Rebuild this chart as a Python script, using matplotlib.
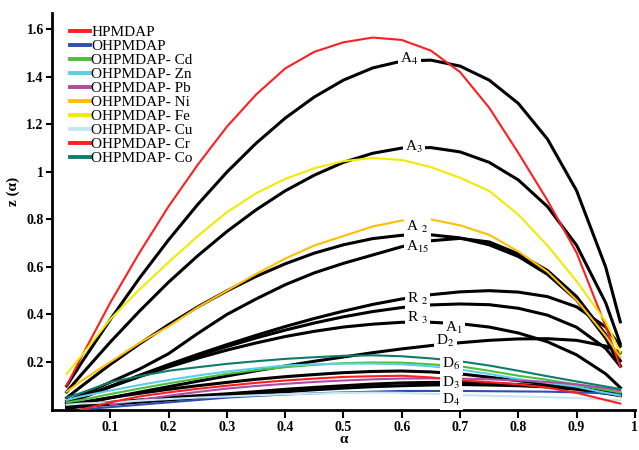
import numpy as np
import matplotlib
matplotlib.use("Agg")
import matplotlib.pyplot as plt
from matplotlib.lines import Line2D

plt.rcParams['font.family'] = ['Liberation Serif', 'DejaVu Serif']
plt.rcParams['mathtext.fontset'] = 'stix'

nan = np.nan

# conversion degree values
alpha = [0.025, 0.05, 0.1, 0.15, 0.2, 0.25, 0.3, 0.35, 0.4, 0.45, 0.5, 0.55, 0.6,
         0.65, 0.7, 0.75, 0.8, 0.85, 0.9, 0.95, 0.975]

# experimental z(alpha) curves
hpmdap = [0.10, 0.22, 0.45, 0.66, 0.855, 1.03, 1.19, 1.325, 1.435, 1.505, 1.545, 1.565, 1.555,
          1.51, 1.42, 1.27, 1.08, 0.88, 0.66, 0.35, 0.18]
ohpmdap = [nan, 0.0, 0.01, 0.02, 0.03, 0.04, 0.05, 0.057, 0.063, 0.068, 0.072, 0.075, 0.078,
           0.078, 0.078, 0.077, 0.076, 0.075, 0.072, 0.068, 0.065]
cd = [0.03, 0.04, 0.065, 0.088, 0.11, 0.13, 0.15, 0.165, 0.178, 0.188, 0.195, 0.198, 0.197,
      0.19, 0.182, 0.163, 0.142, 0.125, 0.105, 0.082, 0.072]
zn = [0.04, 0.055, 0.08, 0.103, 0.124, 0.143, 0.16, 0.173, 0.185, 0.19, 0.193, 0.193, 0.19,
      0.182, 0.168, 0.15, 0.128, 0.112, 0.096, 0.07, 0.058]
pb = [nan, nan, 0.02, 0.04, 0.058, 0.074, 0.088, 0.099, 0.108, 0.116, 0.122, 0.127, 0.13,
      0.131, 0.13, 0.127, 0.122, 0.116, 0.106, 0.09, 0.08]
ni = [0.075, 0.12, 0.20, 0.28, 0.35, 0.43, 0.50, 0.57, 0.635, 0.69, 0.73, 0.77, 0.795,
      0.80, 0.775, 0.735, 0.665, 0.58, 0.46, 0.31, 0.22]
fe = [0.15, 0.225, 0.38, 0.505, 0.62, 0.73, 0.83, 0.91, 0.97, 1.015, 1.045, 1.058, 1.05,
      1.02, 0.975, 0.92, 0.82, 0.69, 0.54, 0.37, 0.24]
cu = [0.02, 0.025, 0.03, 0.037, 0.044, 0.05, 0.055, 0.06, 0.064, 0.067, 0.07, 0.071, 0.07,
      0.066, 0.061, 0.058, 0.055, 0.052, 0.048, 0.042, 0.038]
cr = [nan, 0.0, 0.03, 0.055, 0.072, 0.087, 0.10, 0.112, 0.122, 0.13, 0.137, 0.14, 0.142,
      0.135, 0.123, 0.115, 0.106, 0.092, 0.07, 0.04, 0.025]
co = [0.05, 0.07, 0.115, 0.14, 0.163, 0.178, 0.192, 0.203, 0.213, 0.22, 0.226, 0.228, 0.224,
      0.215, 0.203, 0.185, 0.163, 0.14, 0.118, 0.097, 0.086]

# model master curves (black)
A1 = [0.025, 0.049, 0.095, 0.138, 0.179, 0.216, 0.250, 0.280, 0.307, 0.329, 0.347, 0.359, 0.367,
      0.367, 0.361, 0.347, 0.322, 0.285, 0.230, 0.150, 0.092]
A15 = [0.035, 0.06, 0.115, 0.17, 0.235, 0.32, 0.40, 0.465, 0.525, 0.575, 0.615, 0.65, 0.685,
       0.71, 0.72, 0.705, 0.655, 0.585, 0.475, 0.315, 0.205]
A2 = [0.049, 0.097, 0.190, 0.276, 0.357, 0.432, 0.499, 0.560, 0.613, 0.658, 0.693, 0.719, 0.733,
      0.735, 0.722, 0.693, 0.644, 0.569, 0.461, 0.300, 0.184]
A3 = [0.074, 0.146, 0.284, 0.414, 0.536, 0.647, 0.749, 0.840, 0.920, 0.986, 1.040, 1.078, 1.100,
      1.102, 1.084, 1.040, 0.966, 0.854, 0.691, 0.449, 0.277]
A4 = [0.099, 0.195, 0.379, 0.553, 0.714, 0.863, 0.999, 1.120, 1.226, 1.315, 1.386, 1.437, 1.466,
      1.470, 1.445, 1.386, 1.288, 1.138, 0.921, 0.599, 0.369]
R2 = [0.025, 0.049, 0.097, 0.144, 0.189, 0.232, 0.273, 0.312, 0.349, 0.383, 0.414, 0.442, 0.465,
      0.483, 0.495, 0.500, 0.494, 0.475, 0.432, 0.347, 0.266]
R3 = [0.025, 0.049, 0.097, 0.142, 0.185, 0.226, 0.265, 0.301, 0.334, 0.364, 0.390, 0.412, 0.429,
      0.440, 0.444, 0.441, 0.426, 0.397, 0.346, 0.257, 0.182]
D2 = [0.012, 0.025, 0.049, 0.073, 0.096, 0.119, 0.141, 0.163, 0.183, 0.203, 0.221, 0.239, 0.255,
      0.269, 0.281, 0.291, 0.297, 0.298, 0.291, 0.267, 0.239]
D3 = [0.01, 0.018, 0.03, 0.04, 0.05, 0.058, 0.066, 0.075, 0.085, 0.093, 0.1, 0.107, 0.112,
      0.114, 0.114, 0.11, 0.105, 0.098, 0.09, 0.07, 0.06]
D4 = [0.005, 0.012, 0.022, 0.031, 0.04, 0.049, 0.058, 0.067, 0.075, 0.083, 0.09, 0.096, 0.1,
      0.103, 0.105, 0.103, 0.1, 0.095, 0.085, 0.068, 0.058]
D6 = [0.02, 0.03, 0.05, 0.068, 0.085, 0.1, 0.114, 0.127, 0.138, 0.147, 0.155, 0.16, 0.162,
      0.158, 0.15, 0.136, 0.121, 0.108, 0.093, 0.075, 0.065]

series_names = ['HPMDAP', 'OHPMDAP', 'OHPMDAP- Cd', 'OHPMDAP- Zn', 'OHPMDAP- Pb',
                'OHPMDAP- Ni', 'OHPMDAP- Fe', 'OHPMDAP- Cu', 'OHPMDAP- Cr', 'OHPMDAP- Co']
series_data = [hpmdap, ohpmdap, cd, zn, pb, ni, fe, cu, cr, co]
series_colors = ['#ff1e1e', '#2f4fb0', '#4cbf3a', '#5ccfe6', '#b04aa8',
                 '#ffbf00', '#f2ea00', '#c6e6f2', '#ff1e1e', '#0e7c6c']

model_data = [A4, A3, A2, A15, R2, R3, A1, D2, D6, D3, D4]
model_labels = [r'A$_4$', r'A$_3$', r'A $_2$', r'A$_{15}$', r'R $_2$', r'R $_3$',
                r'A$_1$', r'D$_2$', r'D$_6$', r'D$_3$', r'D$_4$']
label_x = [0.613, 0.621, 0.627, 0.627, 0.627, 0.627, 0.69, 0.675, 0.685, 0.685, 0.685]
label_y = [1.475, 1.105, 0.77, 0.685, 0.465, 0.385, 0.343, 0.287, 0.19, 0.112, 0.04]

fig = plt.figure(figsize=(6.39, 4.5), dpi=100)
ax = fig.add_axes([0.0815, 0.09, 0.912, 0.882])

for y in model_data:
    ax.plot(alpha, y, color='black', lw=2.2, zorder=2)

for y, c in zip(series_data, series_colors):
    ax.plot(alpha, y, color=c, lw=1.5, zorder=3)

# curve labels sit on a white patch so the lines look broken there
for t, x, y in zip(model_labels, label_x, label_y):
    ax.text(x, y, t, fontsize=11, ha='center', va='center', zorder=5,
            bbox=dict(facecolor='white', edgecolor='none', pad=1.5))

ax.set_xlim(0, 1.0)
ax.set_ylim(0, 1.67)
ax.set_xticks([0.1, 0.2, 0.3, 0.4, 0.5, 0.6, 0.7, 0.8, 0.9, 1.0])
ax.set_xticklabels(['0.1', '0.2', '0.3', '0.4', '0.5', '0.6', '0.7', '0.8', '0.9', '1'])
ax.set_yticks([0.2, 0.4, 0.6, 0.8, 1.0, 1.2, 1.4, 1.6])
ax.set_yticklabels(['0.2', '0.4', '0.6', '0.8', '1', '1.2', '1.4', '1.6'])
ax.tick_params(axis='x', direction='out', length=6, width=1.5, labelsize=10, pad=2)
ax.tick_params(axis='y', direction='out', length=4, width=1.5, labelsize=10, pad=2)
for lab in ax.get_xticklabels() + ax.get_yticklabels():
    lab.set_fontweight('bold')

ax.spines['top'].set_visible(False)
ax.spines['right'].set_visible(False)
ax.spines['left'].set_linewidth(2)
ax.spines['bottom'].set_linewidth(2)

ax.set_xlabel('α', fontsize=11, fontweight='bold')
ax.xaxis.set_label_coords(0.5, -0.058)
ax.set_ylabel('z (α)', fontsize=11, fontweight='bold')
ax.yaxis.set_label_coords(-0.055, 0.55)

handles = [Line2D([], [], color=c, lw=2.8) for c in series_colors]
leg = ax.legend(handles, series_names, loc='upper left', bbox_to_anchor=(0.012, 0.995),
                frameon=False, fontsize=11, handlelength=1.3, handletextpad=0.1,
                labelspacing=0.02, borderpad=0.2)

fig.savefig('out.png', dpi=100)
